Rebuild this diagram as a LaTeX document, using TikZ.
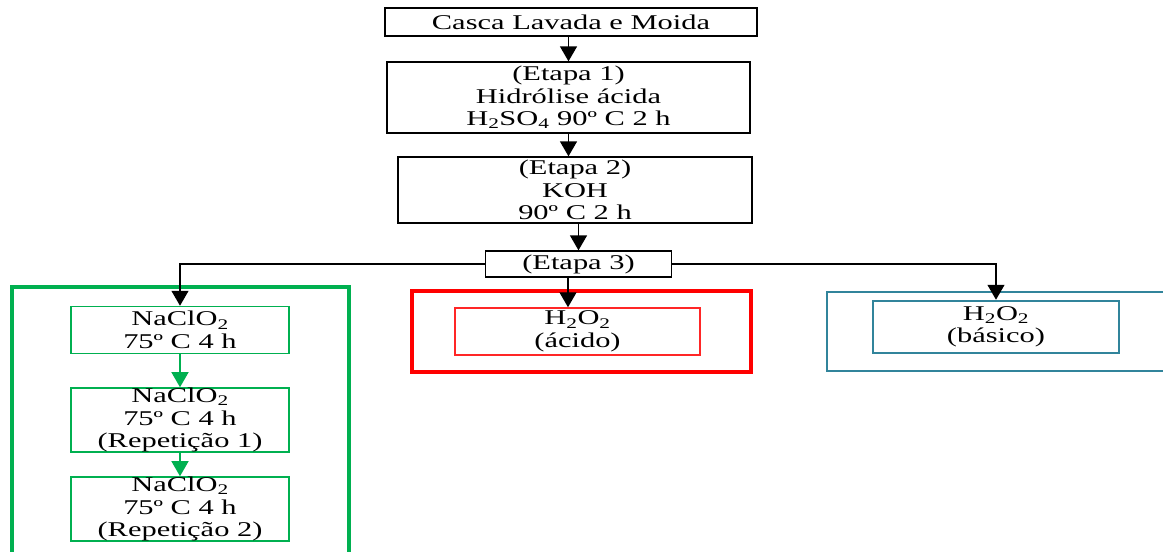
\documentclass[tikz,border=0pt]{standalone}
\usepackage{fontspec}
\setmainfont[FakeStretch=1.45]{Liberation Serif}
\usetikzlibrary{arrows.meta}
\definecolor{gr}{HTML}{00B050}
\definecolor{rd}{HTML}{FF0000}
\definecolor{tl}{HTML}{31849B}
\begin{document}
\begin{tikzpicture}[x=1pt,y=-1pt,
  box/.style={draw, line width=1.3pt, inner sep=0pt, align=center, font=\fontsize{21}{22.5}\selectfont},
  arr/.style={-{Triangle[width=17pt,length=15pt]}, line width=1.3pt},
  garr/.style={arr, draw=gr, -{Triangle[width=17pt,length=15pt,fill=gr]}},
  gbox/.style={box, draw=gr, line width=1.5pt, minimum width=218pt},
]
\useasboundingbox (0,0) rectangle (1163,552);
% frames
\draw[gr, line width=3.2pt] (12,560) -- (12,287) -- (349,287) -- (349,560);
\draw[rd, line width=3.2pt] (412,291) rectangle (751,372);
\draw[tl, line width=2pt] (1170,292) -- (827,292) -- (827,371) -- (1170,371);
% nodes
\node[box, minimum width=372pt, minimum height=28pt] (b1) at (571,22) {Casca Lavada e Moida};
\node[box, minimum width=363pt, minimum height=71pt] (b2) at (568.5,97.5) {(Etapa 1)\\Hidrólise ácida\\H\textsubscript{2}SO\textsubscript{4} 90º C 2 h};
\node[box, minimum width=354pt, minimum height=66pt] (b3) at (575,190) {(Etapa 2)\\KOH\\90º C 2 h};
\node[box, minimum width=186pt, minimum height=26pt] (e3) at (578.5,264) {(Etapa 3)};
\node[gbox, minimum height=47pt] (g1) at (180,330) {NaClO\textsubscript{2}\\75º C 4 h};
\node[gbox, minimum height=60pt] (g2) at (180,420) {NaClO\textsubscript{2}\\75º C 4 h\\(Repetição 1)};
\node[gbox, minimum height=60pt] (g3) at (180,509) {NaClO\textsubscript{2}\\75º C 4 h\\(Repetição 2)};
\node[box, draw=rd!85!white, line width=1.5pt, minimum width=245pt, minimum height=47pt] (r1) at (577.5,331.5) {H\textsubscript{2}O\textsubscript{2}\\(ácido)};
\node[box, draw=tl, line width=2.5pt, minimum width=246pt, minimum height=52pt] (t1) at (996,327) {H\textsubscript{2}O\textsubscript{2}\\(básico)};
\coordinate (m) at (568,0);
% connectors
\draw[arr] (b2.north |- b1.south) -- (b2.north);
\draw[arr] (b2.south) -- (b2.south |- b3.north);
\draw[arr] (e3.north |- b3.south) -- (e3.north);
\draw[arr] (e3.west) -| (g1.north);
\draw[arr] (e3.east) -| (t1.north);
\draw[arr] (e3.south -| m) -- (r1.north -| m);
\draw[garr] (g1.south) -- (g2.north);
\draw[garr] (g2.south) -- (g3.north);
\end{tikzpicture}
\end{document}
